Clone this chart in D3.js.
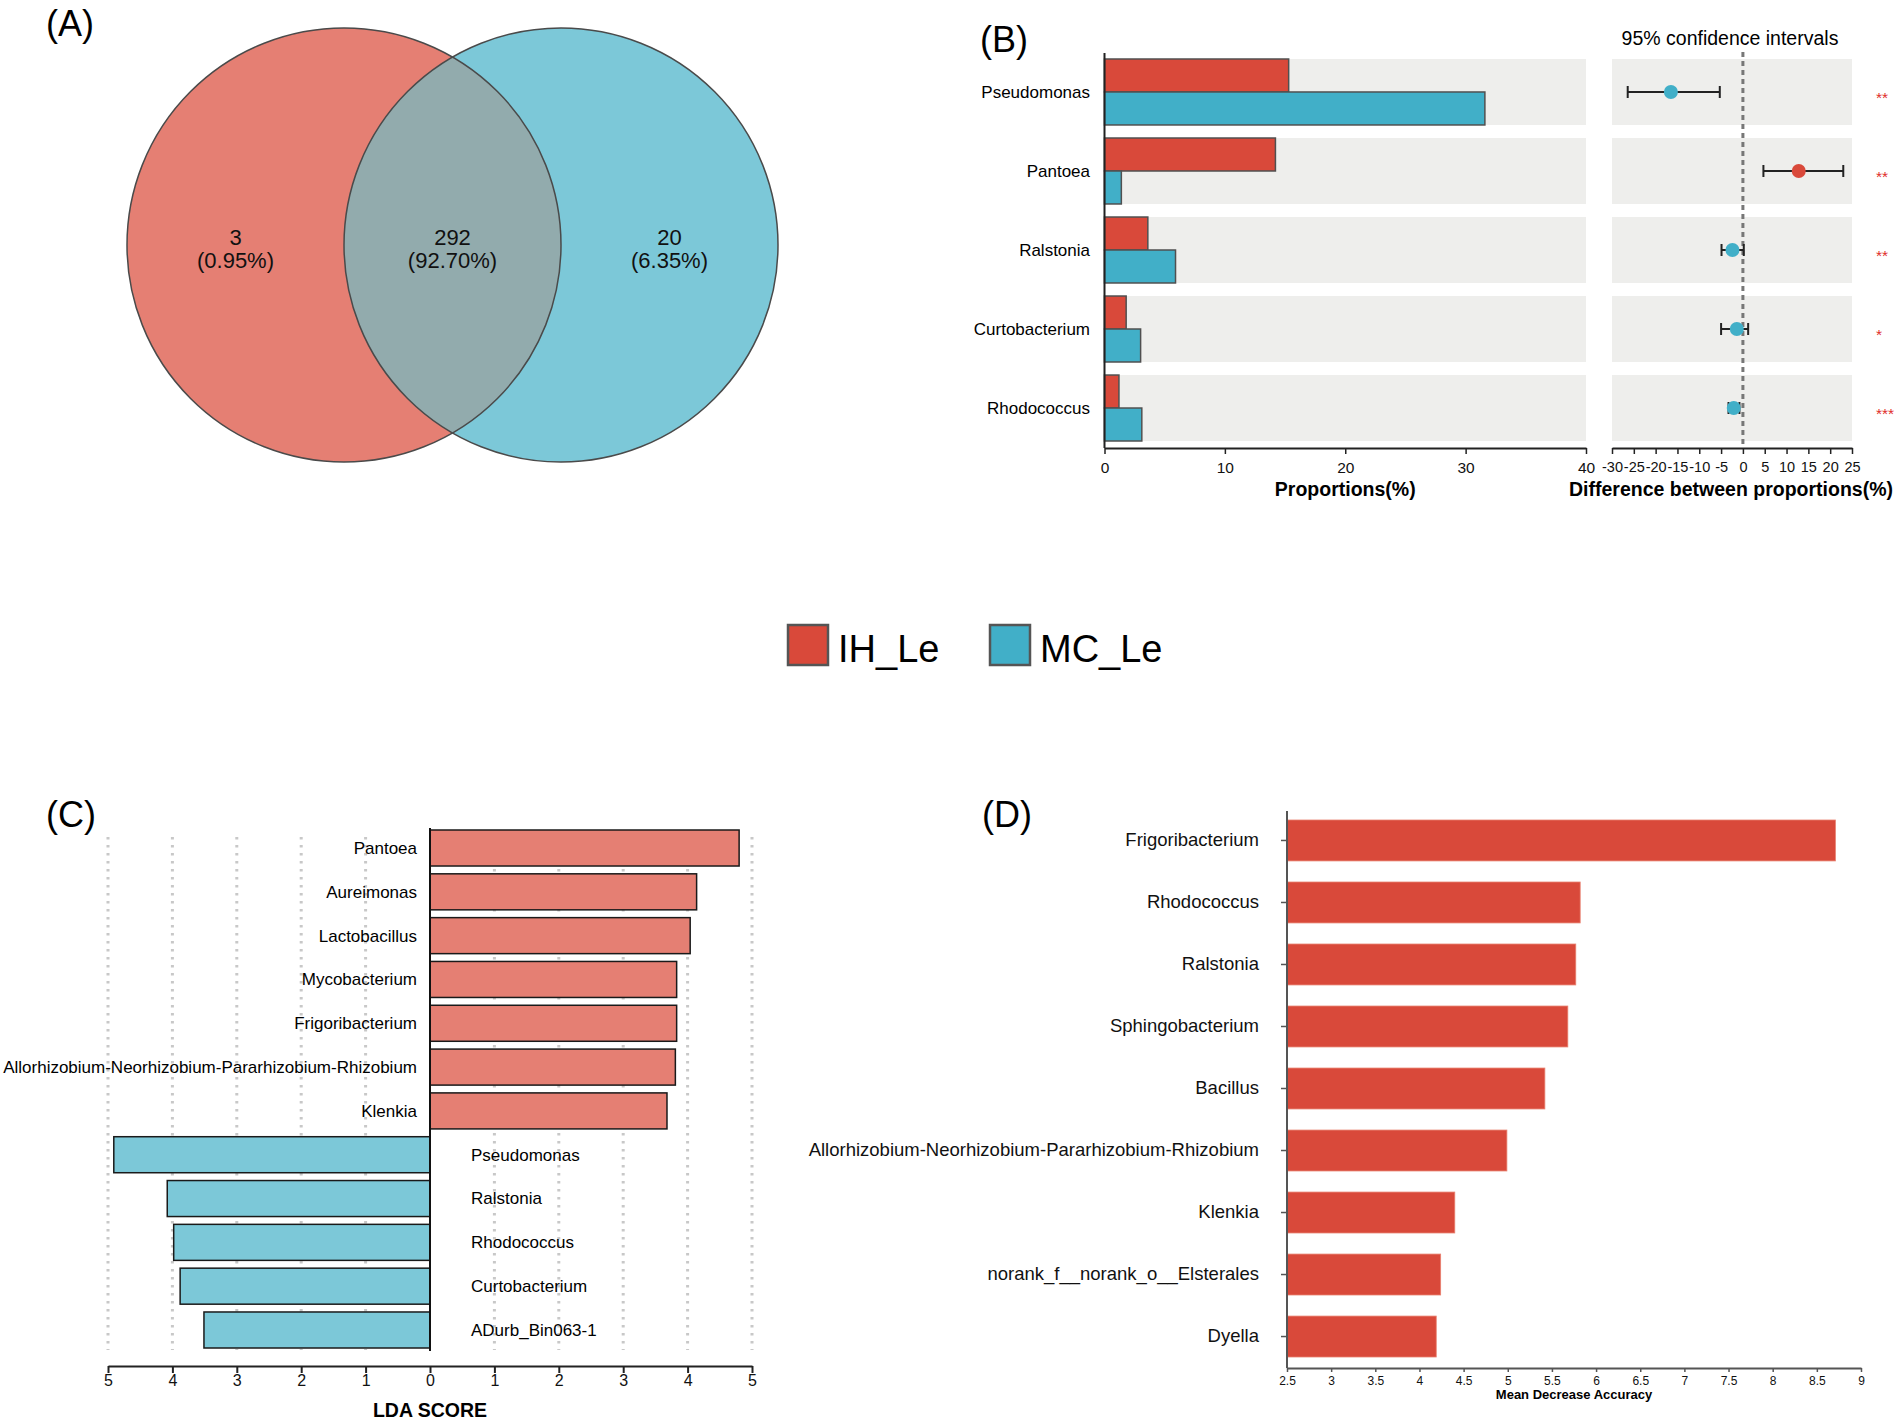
<!DOCTYPE html>
<html>
<head>
<meta charset="utf-8">
<script src="https://cdn.jsdelivr.net/npm/d3@7"></script>
<style>
    body { margin: 0; background: #fff; }
    svg { display: block; font-family: "Liberation Sans", Arial, sans-serif; }
</style>
</head>
<body>
<div id="chart"></div>
<script>
// Venn counts: IH_Le only, shared, MC_Le only
const vennCounts = [3, 292, 20];
const groups = ['IH_Le', 'MC_Le'];

// STAMP (B)
const stampGenera = ['Pseudomonas', 'Pantoea', 'Ralstonia', 'Curtobacterium', 'Rhodococcus'];
const stampIH = [15.3, 14.2, 3.6, 1.8, 1.2];
const stampMC = [31.6, 1.4, 5.9, 3.0, 3.1];
const stampDiff = [-16.5, 12.8, -2.4, -1.4, -2.1];
const stampLow = [-26.4, 4.7, -4.9, -5.0, -3.3];
const stampHigh = [-5.3, 23.0, 0.2, 1.2, -0.8];
const stampStars = ['**', '**', '**', '*', '***'];
const propTicks = [0, 10, 20, 30, 40];
const diffTicks = [-30, -25, -20, -15, -10, -5, 0, 5, 10, 15, 20, 25];

// LEfSe (C)
const ldaGenera = ['Pantoea', 'Aureimonas', 'Lactobacillus', 'Mycobacterium', 'Frigoribacterium',
    'Allorhizobium-Neorhizobium-Pararhizobium-Rhizobium', 'Klenkia', 'Pseudomonas', 'Ralstonia',
    'Rhodococcus', 'Curtobacterium', 'ADurb_Bin063-1'];
const ldaScores = [4.80, 4.14, 4.04, 3.83, 3.83, 3.81, 3.68, -4.91, -4.08, -3.98, -3.88, -3.51];
const ldaTicks = [-5, -4, -3, -2, -1, 0, 1, 2, 3, 4, 5];

// Random forest (D)
const rfGenera = ['Frigoribacterium', 'Rhodococcus', 'Ralstonia', 'Sphingobacterium', 'Bacillus',
    'Allorhizobium-Neorhizobium-Pararhizobium-Rhizobium', 'Klenkia', 'norank_f__norank_o__Elsterales', 'Dyella'];
const rfAccuracy = [8.71, 5.82, 5.77, 5.68, 5.42, 4.99, 4.40, 4.24, 4.19];
const rfTicks = [2.5, 3, 3.5, 4, 4.5, 5, 5.5, 6, 6.5, 7, 7.5, 8, 8.5, 9];

const W = 1902, H = 1422;
const RED = '#D9493A', BLUE = '#41AFC8';
const SOFT_RED = '#E57F73', SOFT_BLUE = '#7CC8D8';
const FONT = '"Liberation Sans", Arial, sans-serif';

const svg = d3.select('#chart').append('svg')
    .attr('width', W)
    .attr('height', H);

function panelLabel(text, x, y) {
    svg.append('text')
        .attr('x', x)
        .attr('y', y)
        .attr('font-size', 36)
        .text(text);
}

function styleAxis(a, color, size) {
    a.select('.domain').attr('stroke', color).attr('stroke-width', 2);
    a.selectAll('.tick line').attr('stroke', color).attr('stroke-width', 1.5);
    a.selectAll('.tick text')
        .attr('font-size', size)
        .attr('font-family', FONT)
        .attr('fill', '#111');
}

/**
 * (A) Venn diagram
 */
function drawVenn() {
    const cy = 245, r = 217;
    const cx = [344, 561];
    const total = d3.sum(vennCounts);
    const pct = d3.format('.2%');

    svg.append('clipPath')
        .attr('id', 'clip-left')
        .append('circle')
        .attr('cx', cx[0]).attr('cy', cy).attr('r', r);

    svg.append('circle').attr('cx', cx[0]).attr('cy', cy).attr('r', r).attr('fill', SOFT_RED);
    svg.append('circle').attr('cx', cx[1]).attr('cy', cy).attr('r', r).attr('fill', SOFT_BLUE);
    svg.append('circle').attr('cx', cx[1]).attr('cy', cy).attr('r', r)
        .attr('fill', '#92ABAD')
        .attr('clip-path', 'url(#clip-left)');

    cx.forEach(c => {
        svg.append('circle').attr('cx', c).attr('cy', cy).attr('r', r)
            .attr('fill', 'none')
            .attr('stroke', '#4a4a4a')
            .attr('stroke-width', 1.5);
    });

    // Middle of each region along the centre line
    const textX = [
        (cx[0] - r + cx[1] - r) / 2,
        (cx[0] + cx[1]) / 2,
        (cx[0] + r + cx[1] + r) / 2
    ];
    vennCounts.forEach((n, i) => {
        const t = svg.append('text')
            .attr('text-anchor', 'middle')
            .attr('font-size', 22)
            .attr('fill', '#111');
        t.append('tspan').attr('x', textX[i]).attr('y', 245).text(n);
        t.append('tspan').attr('x', textX[i]).attr('y', 268).text(`(${pct(n / total)})`);
    });

    panelLabel('(A)', 46, 36);
}

/**
 * (B) Extended error bar plot
 */
function drawStamp() {
    const x = d3.scaleLinear().domain([0, 40]).range([1104.5, 1586]);
    const xd = d3.scaleLinear().domain([-30, 25]).range([1612, 1852]);
    const y = d3.scaleBand().domain(stampGenera).range([59, 441]).paddingInner(0.165);
    const bw = y.bandwidth();
    const g = svg.append('g');

    // Background bands
    g.selectAll('.band-l')
        .data(stampGenera)
        .enter()
        .append('rect')
        .attr('x', x(0))
        .attr('y', d => y(d))
        .attr('width', x(40) - x(0))
        .attr('height', bw)
        .attr('fill', '#EEEEEC');

    g.selectAll('.band-r')
        .data(stampGenera)
        .enter()
        .append('rect')
        .attr('x', xd(-30))
        .attr('y', d => y(d))
        .attr('width', xd(25) - xd(-30))
        .attr('height', bw)
        .attr('fill', '#EEEEEC');

    // Bars
    g.selectAll('.bar-ih')
        .data(stampGenera)
        .enter()
        .append('rect')
        .attr('x', x(0))
        .attr('y', d => y(d))
        .attr('width', (d, i) => x(stampIH[i]) - x(0))
        .attr('height', bw / 2)
        .attr('fill', RED)
        .attr('stroke', '#505050')
        .attr('stroke-width', 1.5);

    g.selectAll('.bar-mc')
        .data(stampGenera)
        .enter()
        .append('rect')
        .attr('x', x(0))
        .attr('y', d => y(d) + bw / 2)
        .attr('width', (d, i) => x(stampMC[i]) - x(0))
        .attr('height', bw / 2)
        .attr('fill', BLUE)
        .attr('stroke', '#505050')
        .attr('stroke-width', 1.5);

    // Category labels
    g.selectAll('.lab')
        .data(stampGenera)
        .enter()
        .append('text')
        .attr('x', 1090)
        .attr('y', d => y(d) + bw / 2)
        .attr('dy', '0.35em')
        .attr('text-anchor', 'end')
        .attr('font-size', 17)
        .text(d => d);

    // Left axis line
    g.append('line')
        .attr('x1', x(0)).attr('x2', x(0))
        .attr('y1', 53).attr('y2', 448)
        .attr('stroke', '#222')
        .attr('stroke-width', 2);

    // Zero line of difference panel
    g.append('line')
        .attr('x1', xd(0)).attr('x2', xd(0))
        .attr('y1', 52).attr('y2', 445)
        .attr('stroke', '#777')
        .attr('stroke-width', 3)
        .attr('stroke-dasharray', '5,4');

    // Error bars
    stampGenera.forEach((name, i) => {
        const cy = y(name) + bw / 2;
        g.append('line')
            .attr('x1', xd(stampLow[i])).attr('x2', xd(stampHigh[i]))
            .attr('y1', cy).attr('y2', cy)
            .attr('stroke', '#222').attr('stroke-width', 2);
        [stampLow[i], stampHigh[i]].forEach(v => {
            g.append('line')
                .attr('x1', xd(v)).attr('x2', xd(v))
                .attr('y1', cy - 6).attr('y2', cy + 6)
                .attr('stroke', '#222').attr('stroke-width', 2);
        });
        g.append('circle')
            .attr('cx', xd(stampDiff[i]))
            .attr('cy', cy)
            .attr('r', 7)
            .attr('fill', stampDiff[i] > 0 ? RED : BLUE);
        g.append('text')
            .attr('x', 1876)
            .attr('y', cy + 11)
            .attr('font-size', 15.5)
            .attr('fill', '#E0302A')
            .text(stampStars[i]);
    });

    // Bottom axes
    const axisL = g.append('g')
        .attr('transform', 'translate(0,448)')
        .call(d3.axisBottom(x).tickValues(propTicks).tickSize(6).tickSizeOuter(0).tickPadding(8));
    const axisR = g.append('g')
        .attr('transform', 'translate(0,448)')
        .call(d3.axisBottom(xd).tickValues(diffTicks).tickSize(6).tickSizeOuter(0).tickPadding(8)
            .tickFormat(d => String(d)));
    styleAxis(axisL, '#222', 15.5);
    styleAxis(axisR, '#222', 14.5);

    g.append('text')
        .attr('x', (x(0) + x(40)) / 2)
        .attr('y', 496)
        .attr('text-anchor', 'middle')
        .attr('font-size', 19.5)
        .attr('font-weight', 'bold')
        .text('Proportions(%)');

    g.append('text')
        .attr('x', 1731)
        .attr('y', 496)
        .attr('text-anchor', 'middle')
        .attr('font-size', 19.5)
        .attr('font-weight', 'bold')
        .text('Difference between proportions(%)');

    g.append('text')
        .attr('x', 1730)
        .attr('y', 45)
        .attr('text-anchor', 'middle')
        .attr('font-size', 19.5)
        .text('95% confidence intervals');

    panelLabel('(B)', 980, 52);
}

/**
 * Shared legend
 */
function drawLegend() {
    const colors = [RED, BLUE];
    const xs = [788, 990];
    groups.forEach((name, i) => {
        svg.append('rect')
            .attr('x', xs[i]).attr('y', 625)
            .attr('width', 40).attr('height', 40)
            .attr('fill', colors[i])
            .attr('stroke', '#555')
            .attr('stroke-width', 2.5);
        svg.append('text')
            .attr('x', xs[i] + 50)
            .attr('y', 662)
            .attr('font-size', 38)
            .text(name);
    });
}

/**
 * (C) LDA scores
 */
function drawLefse() {
    const x = d3.scaleLinear().domain([-5, 5]).range([108, 752]);
    const y = d3.scaleBand().domain(ldaGenera).range([830, 1348]).paddingInner(0.178);
    const g = svg.append('g');

    // Dotted grid
    g.selectAll('.grid')
        .data(ldaTicks.filter(t => t !== 0))
        .enter()
        .append('line')
        .attr('x1', d => x(d)).attr('x2', d => x(d))
        .attr('y1', 837).attr('y2', 1350)
        .attr('stroke', '#c8c8c8')
        .attr('stroke-width', 3)
        .attr('stroke-dasharray', '2.5,5.5');

    g.selectAll('.bar')
        .data(ldaGenera)
        .enter()
        .append('rect')
        .attr('x', (d, i) => x(Math.min(0, ldaScores[i])))
        .attr('y', d => y(d))
        .attr('width', (d, i) => Math.abs(x(ldaScores[i]) - x(0)))
        .attr('height', y.bandwidth())
        .attr('fill', (d, i) => ldaScores[i] > 0 ? SOFT_RED : SOFT_BLUE)
        .attr('stroke', '#1a1a1a')
        .attr('stroke-width', 1.5);

    g.selectAll('.lab')
        .data(ldaGenera)
        .enter()
        .append('text')
        .attr('x', (d, i) => ldaScores[i] > 0 ? x(0) - 13 : x(0) + 41)
        .attr('y', d => y(d) + y.bandwidth() / 2)
        .attr('dy', '0.35em')
        .attr('text-anchor', (d, i) => ldaScores[i] > 0 ? 'end' : 'start')
        .attr('font-size', 17)
        .text(d => d);

    g.append('line')
        .attr('x1', x(0)).attr('x2', x(0))
        .attr('y1', 828).attr('y2', 1351)
        .attr('stroke', '#111')
        .attr('stroke-width', 2);

    const axis = g.append('g')
        .attr('transform', 'translate(0,1366)')
        .call(d3.axisBottom(x).tickValues(ldaTicks).tickSize(7).tickSizeOuter(0).tickPadding(2)
            .tickFormat(d => Math.abs(d)));
    styleAxis(axis, '#222', 16);
    axis.selectAll('.tick line').attr('stroke-width', 2);

    g.append('text')
        .attr('x', x(0))
        .attr('y', 1417)
        .attr('text-anchor', 'middle')
        .attr('font-size', 19.5)
        .attr('font-weight', 'bold')
        .text('LDA SCORE');

    panelLabel('(C)', 46, 827);
}

/**
 * (D) Random forest importance
 */
function drawForest() {
    const x = d3.scaleLinear().domain([2.5, 9]).range([1287, 1861]);
    const y = d3.scaleBand().domain(rfGenera).range([820, 1357]).paddingInner(0.34);
    const g = svg.append('g');

    g.selectAll('.bar')
        .data(rfGenera)
        .enter()
        .append('rect')
        .attr('x', x(2.5))
        .attr('y', d => y(d))
        .attr('width', (d, i) => x(rfAccuracy[i]) - x(2.5))
        .attr('height', y.bandwidth())
        .attr('fill', RED)
        .attr('stroke', '#E8806F')
        .attr('stroke-width', 0.8);

    const left = g.append('g')
        .attr('transform', `translate(${x(2.5)},0)`)
        .call(d3.axisLeft(y).tickSize(6).tickPadding(22));
    left.select('.domain').remove();
    styleAxis(left, '#555', 18.5);

    g.append('line')
        .attr('x1', x(2.5)).attr('x2', x(2.5))
        .attr('y1', 811).attr('y2', 1368)
        .attr('stroke', '#555')
        .attr('stroke-width', 2);

    const bottom = g.append('g')
        .attr('transform', 'translate(0,1368)')
        .call(d3.axisBottom(x).tickValues(rfTicks).tickSize(4).tickSizeOuter(0).tickPadding(4)
            .tickFormat(d => d));
    styleAxis(bottom, '#555', 12);

    g.append('text')
        .attr('x', (x(2.5) + x(9)) / 2)
        .attr('y', 1399)
        .attr('text-anchor', 'middle')
        .attr('font-size', 13)
        .attr('font-weight', 'bold')
        .text('Mean Decrease Accuracy');

    panelLabel('(D)', 982, 827);
}

drawVenn();
drawStamp();
drawLegend();
drawLefse();
drawForest();
</script>
</body>
</html>
